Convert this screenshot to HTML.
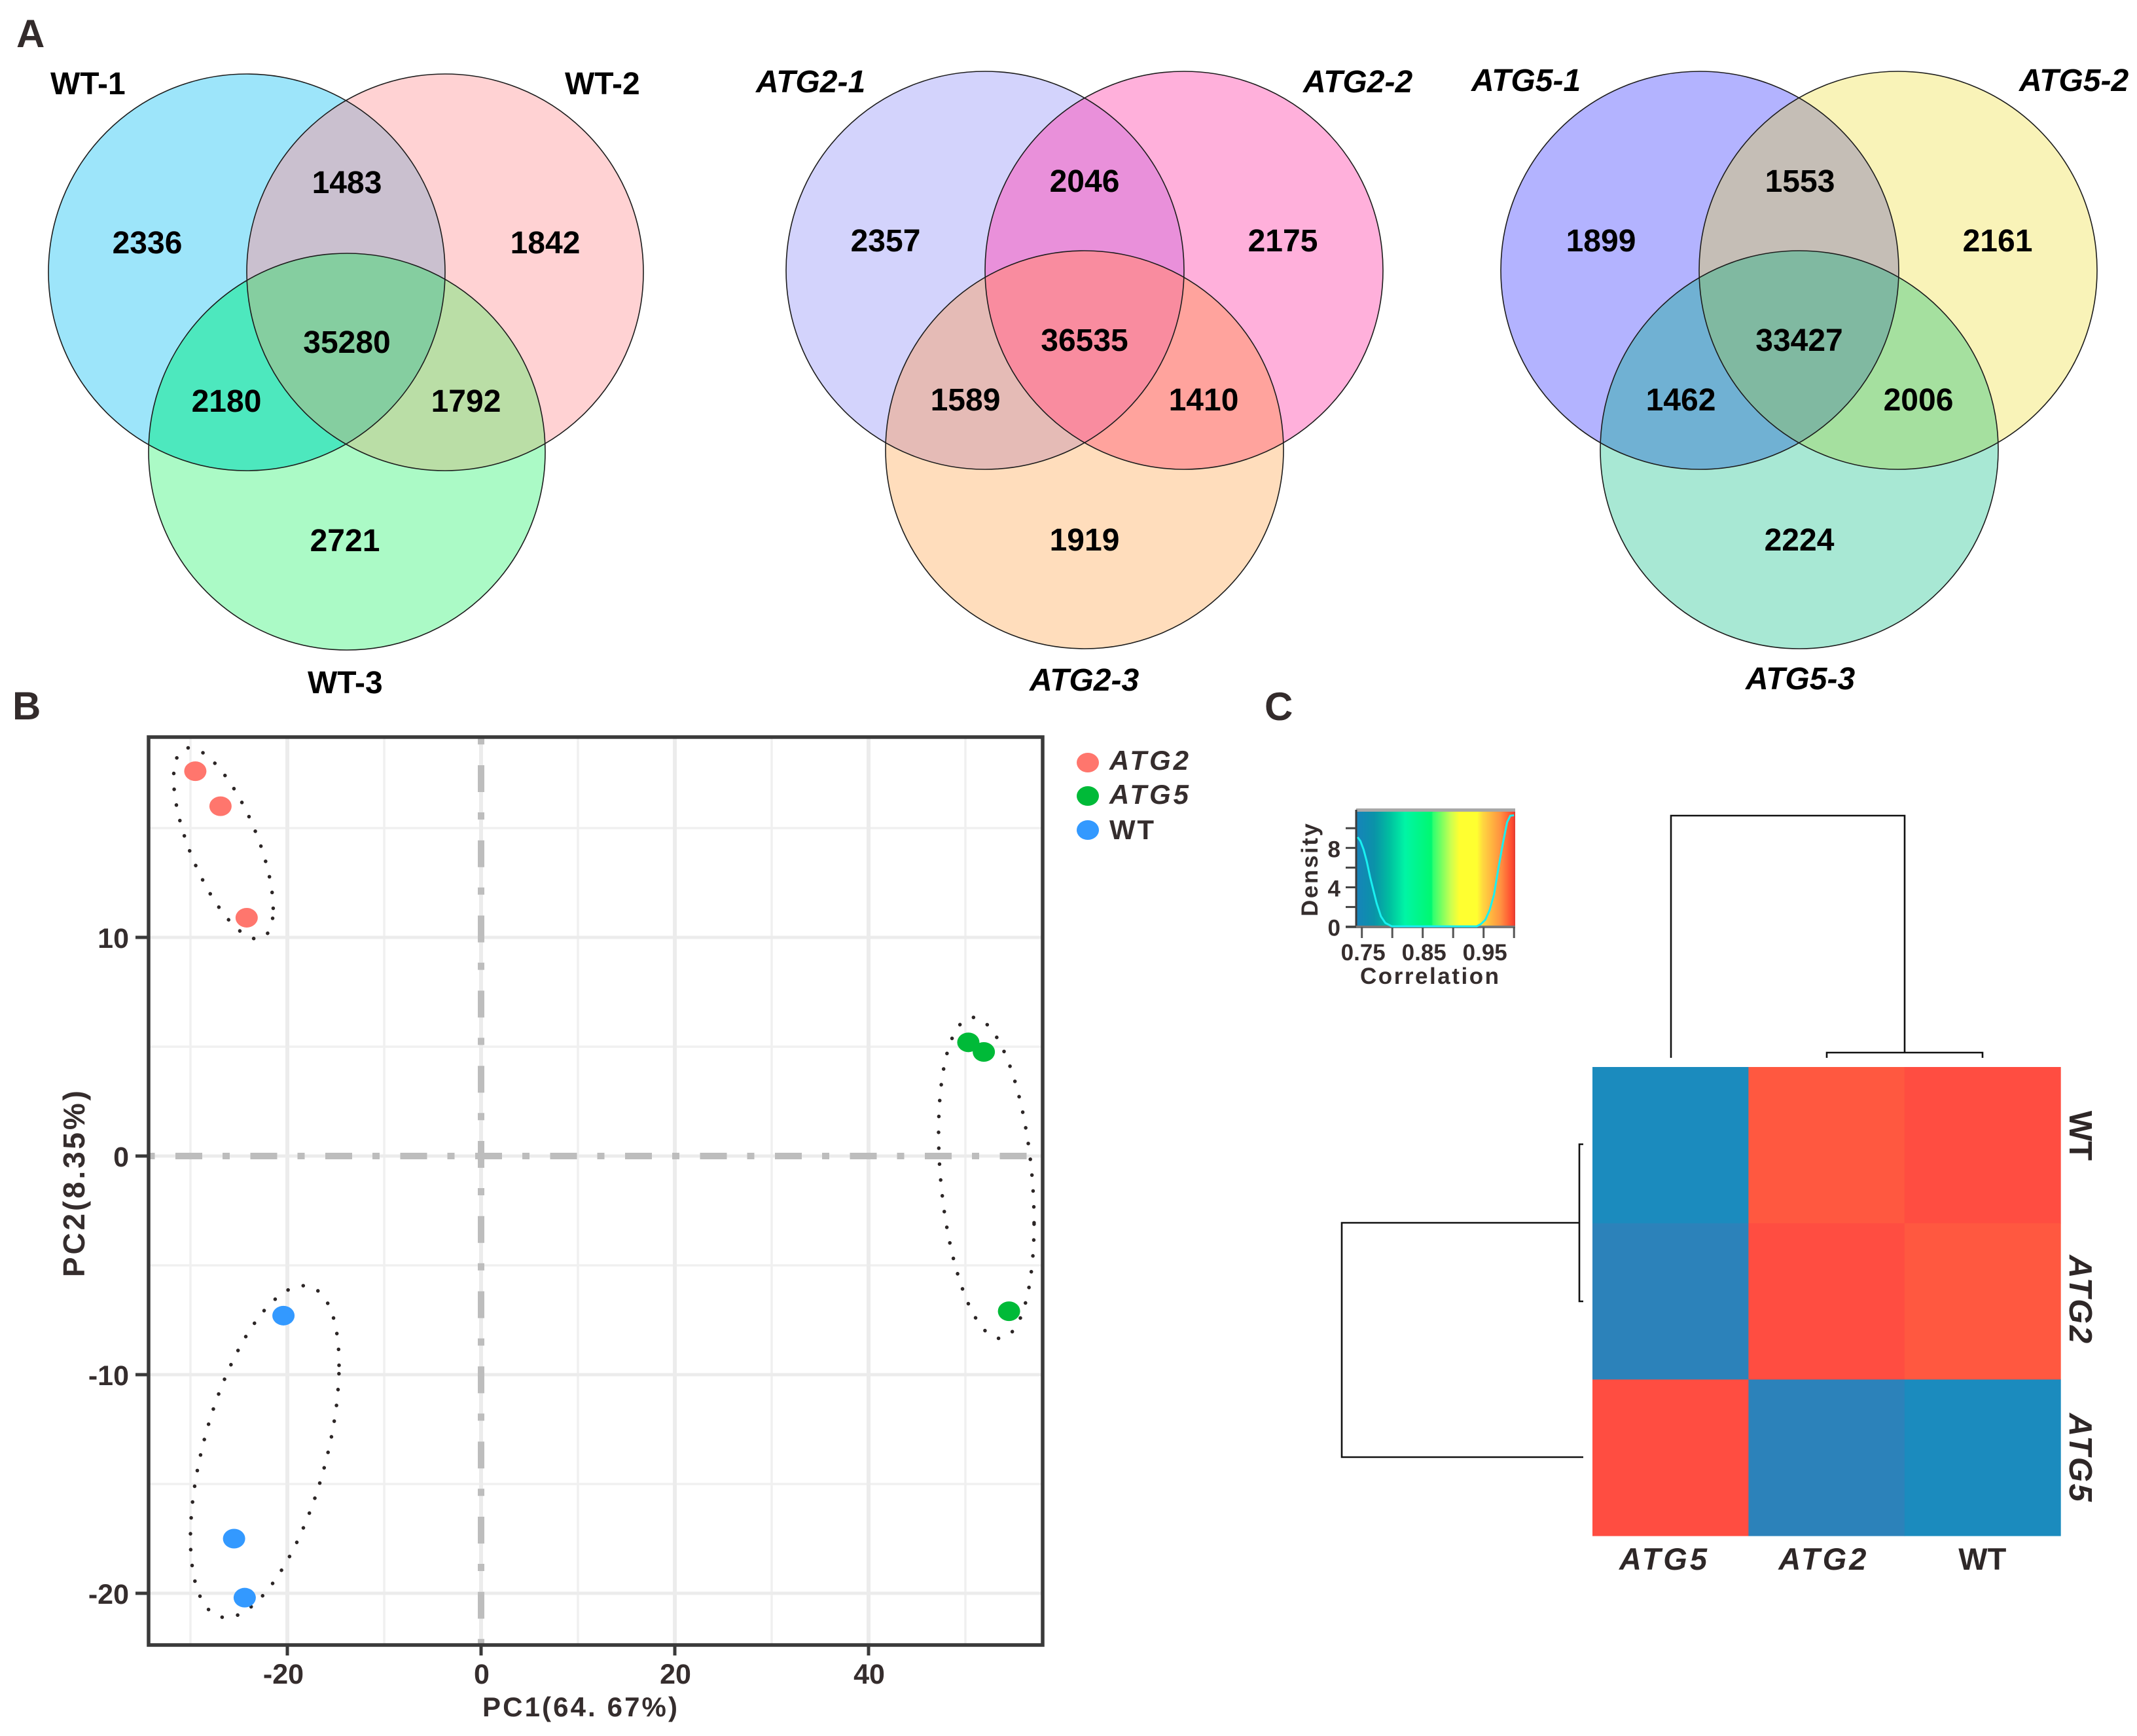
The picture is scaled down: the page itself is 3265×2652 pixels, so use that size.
<!DOCTYPE html>
<html lang="en">
<head>
<meta charset="utf-8">
<title>Venn diagrams, PCA and correlation heatmap</title>
<style>
html,body{margin:0;padding:0;background:#fff;}
svg{display:block;font-family:"Liberation Sans",Arial,sans-serif;}
.panel{font-size:60px;font-weight:bold;fill:#332b2b;}
.num{font-size:48px;font-weight:bold;fill:#000;text-anchor:middle;}
.vl{font-size:48px;font-weight:bold;fill:#000;}
.vi{font-size:48px;font-weight:bold;font-style:italic;fill:#000;}
.ol{fill:none;stroke:#1c1c1c;stroke-width:1.6;}
.tick{font-size:43px;font-weight:bold;fill:#352d2d;}
.dl{font-size:35px;font-weight:bold;fill:#352d2d;}
</style>
</head>
<body>
<svg id="figure" xmlns="http://www.w3.org/2000/svg" width="3265" height="2652" viewBox="0 0 3265 2652">
<defs>
<clipPath id="w-a"><circle cx="377" cy="416" r="303"/></clipPath>
<clipPath id="w-b"><circle cx="680" cy="416" r="303"/></clipPath>
<clipPath id="g2-a"><circle cx="1505" cy="413" r="304"/></clipPath>
<clipPath id="g2-b"><circle cx="1809" cy="413" r="304"/></clipPath>
<clipPath id="g5-a"><circle cx="2597" cy="413" r="304"/></clipPath>
<clipPath id="g5-b"><circle cx="2900" cy="413" r="304"/></clipPath>
<linearGradient id="density-gradient" x1="0" x2="1" y1="0" y2="0">
<stop offset="0" stop-color="#2a80b8"/>
<stop offset="0.014" stop-color="#1585b8"/>
<stop offset="0.116" stop-color="#0a93a8"/>
<stop offset="0.212" stop-color="#00c0a0"/>
<stop offset="0.308" stop-color="#00f5a5"/>
<stop offset="0.473" stop-color="#00f870"/>
<stop offset="0.484" stop-color="#30ff70"/>
<stop offset="0.596" stop-color="#ccff50"/>
<stop offset="0.65" stop-color="#ffff30"/>
<stop offset="0.76" stop-color="#ffff30"/>
<stop offset="0.795" stop-color="#ffd840"/>
<stop offset="0.91" stop-color="#ff9040"/>
<stop offset="0.98" stop-color="#ff4a30"/>
<stop offset="1" stop-color="#e03c30"/>
</linearGradient>
</defs>

<text class="panel" x="25" y="72">A</text>
<text class="panel" x="19" y="1099">B</text>
<text class="panel" x="1932" y="1100">C</text>

<!-- Venn WT -->
<g>
<circle cx="377" cy="416" r="303" fill="#9de5fa"/>
<circle cx="680" cy="416" r="303" fill="#ffd2d3"/>
<circle cx="530" cy="690" r="303" fill="#abfac6"/>
<g clip-path="url(#w-a)"><circle cx="680" cy="416" r="303" fill="#cac0cf"/></g>
<g clip-path="url(#w-a)"><circle cx="530" cy="690" r="303" fill="#4de8be"/></g>
<g clip-path="url(#w-b)"><circle cx="530" cy="690" r="303" fill="#badea6"/></g>
<g clip-path="url(#w-a)"><g clip-path="url(#w-b)"><circle cx="530" cy="690" r="303" fill="#85cea0"/></g></g>
<circle class="ol" cx="377" cy="416" r="303"/><circle class="ol" cx="680" cy="416" r="303"/><circle class="ol" cx="530" cy="690" r="303"/>
<text class="num" x="225" y="387">2336</text>
<text class="num" x="530" y="295">1483</text>
<text class="num" x="833" y="387">1842</text>
<text class="num" x="530" y="539">35280</text>
<text class="num" x="346" y="629">2180</text>
<text class="num" x="712" y="629">1792</text>
<text class="num" x="527" y="842">2721</text>
<text class="vl" x="77" y="144">WT-1</text>
<text class="vl" x="863" y="144">WT-2</text>
<text class="vl" x="470" y="1059">WT-3</text>
</g>

<!-- Venn ATG2 -->
<g>
<circle cx="1505" cy="413" r="304" fill="#d3d3fc"/>
<circle cx="1809" cy="413" r="304" fill="#ffb0db"/>
<circle cx="1657" cy="687" r="304" fill="#ffddbc"/>
<g clip-path="url(#g2-a)"><circle cx="1809" cy="413" r="304" fill="#e990da"/></g>
<g clip-path="url(#g2-a)"><circle cx="1657" cy="687" r="304" fill="#e5bbb6"/></g>
<g clip-path="url(#g2-b)"><circle cx="1657" cy="687" r="304" fill="#ffa39d"/></g>
<g clip-path="url(#g2-a)"><g clip-path="url(#g2-b)"><circle cx="1657" cy="687" r="304" fill="#f98c9f"/></g></g>
<circle class="ol" cx="1505" cy="413" r="304"/><circle class="ol" cx="1809" cy="413" r="304"/><circle class="ol" cx="1657" cy="687" r="304"/>
<text class="num" x="1353" y="384">2357</text>
<text class="num" x="1657" y="293">2046</text>
<text class="num" x="1960" y="384">2175</text>
<text class="num" x="1657" y="536">36535</text>
<text class="num" x="1475" y="627">1589</text>
<text class="num" x="1839" y="627">1410</text>
<text class="num" x="1657" y="841">1919</text>
<text class="vi" x="1155" y="141">ATG2-1</text>
<text class="vi" x="1991" y="141">ATG2-2</text>
<text class="vi" x="1573" y="1055">ATG2-3</text>
</g>

<!-- Venn ATG5 -->
<g>
<circle cx="2597" cy="413" r="304" fill="#b3b3ff"/>
<circle cx="2900" cy="413" r="304" fill="#f9f3b8"/>
<circle cx="2749" cy="687" r="304" fill="#a8e8d4"/>
<g clip-path="url(#g5-a)"><circle cx="2900" cy="413" r="304" fill="#c5beb6"/></g>
<g clip-path="url(#g5-a)"><circle cx="2749" cy="687" r="304" fill="#70b1d3"/></g>
<g clip-path="url(#g5-b)"><circle cx="2749" cy="687" r="304" fill="#a5e09f"/></g>
<g clip-path="url(#g5-a)"><g clip-path="url(#g5-b)"><circle cx="2749" cy="687" r="304" fill="#80b9a1"/></g></g>
<circle class="ol" cx="2597" cy="413" r="304"/><circle class="ol" cx="2900" cy="413" r="304"/><circle class="ol" cx="2749" cy="687" r="304"/>
<text class="num" x="2446" y="384">1899</text>
<text class="num" x="2750" y="293">1553</text>
<text class="num" x="3052" y="384">2161</text>
<text class="num" x="2749" y="536">33427</text>
<text class="num" x="2568" y="627">1462</text>
<text class="num" x="2931" y="627">2006</text>
<text class="num" x="2749" y="841">2224</text>
<text class="vi" x="2248" y="139">ATG5-1</text>
<text class="vi" x="3085" y="139">ATG5-2</text>
<text class="vi" x="2667" y="1053">ATG5-3</text>
</g>

<!-- PCA -->
<g id="pca-grid"></g>
<line x1="227" x2="1593" y1="1766" y2="1766" stroke="#bdbdbd" stroke-width="10" stroke-dasharray="41 31 11 31.5" stroke-dashoffset="73.5"/>
<line x1="735" x2="735" y1="1126" y2="2513" stroke="#bdbdbd" stroke-width="10" stroke-dasharray="41 31 11 31.8" stroke-dashoffset="71.8"/>
<g id="pca-ellipses"></g>
<g id="pca-points"></g>
<rect x="227" y="1126" width="1366" height="1387" fill="none" stroke="#3a3a3a" stroke-width="5.5"/>
<g id="pca-axes"></g>
<text x="737" y="2622" font-size="42" font-weight="bold" fill="#352d2d" textLength="298">PC1(64. 67%)</text>
<text transform="translate(129 1951) rotate(-90)" font-size="46" font-weight="bold" fill="#352d2d" textLength="285">PC2(8.35%)</text>

<g>
<ellipse cx="1662" cy="1165" rx="17" ry="15" fill="#ff766d"/>
<ellipse cx="1662" cy="1216" rx="17" ry="15" fill="#00ba38"/>
<ellipse cx="1662" cy="1268" rx="17" ry="15" fill="#3399ff"/>
<text x="1695" y="1176" font-size="42" font-weight="bold" font-style="italic" fill="#352d2d" textLength="121">ATG2</text>
<text x="1695" y="1228" font-size="42" font-weight="bold" font-style="italic" fill="#352d2d" textLength="121">ATG5</text>
<text x="1695" y="1282" font-size="42" font-weight="bold" fill="#352d2d" textLength="68">WT</text>
</g>

<!-- Density key -->
<rect x="2072" y="1237" width="243" height="179" fill="url(#density-gradient)"/>
<rect x="2072" y="1235" width="243" height="5" fill="#a8a8a8"/>
<line x1="2072" x2="2072" y1="1237" y2="1416" stroke="#3a3a3a" stroke-width="3"/>
<line x1="2056" x2="2315" y1="1416" y2="1416" stroke="#777" stroke-width="4"/>
<g id="density-axes"></g>
<path id="density-curve" fill="none" stroke="#19f0f0" stroke-width="3"/>
<text class="dl" x="2078" y="1503" textLength="212">Correlation</text>
<text class="dl" transform="translate(2013 1400) rotate(-90)" textLength="142">Density</text>

<!-- Heatmap -->
<g id="heatmap"></g>
<g fill="none" stroke="#111" stroke-width="2.6">
<path d="M2553 1616V1246H2910V1608"/>
<path d="M2791 1616V1608H3029V1616"/>
<path d="M2413 1868H2050V2226H2419"/>
<path d="M2419 1748H2413V1988H2419"/>
</g>
<g id="heatmap-labels"></g>
</svg>

<script>
/* ---------- PCA data ---------- */
const atg2PC1 = [-29.5, -26.9, -24.2];
const atg2PC2 = [17.6, 16.0, 10.9];
const atg5PC1 = [50.3, 51.9, 54.5];
const atg5PC2 = [5.2, 4.76, -7.1];
const wtPC1 = [-20.4, -25.5, -24.4];
const wtPC2 = [-7.3, -17.5, -20.2];
const groupNames = ['atg2', 'atg5', 'wt'];
const ellipseCenterPC1 = [-26.6, 52.16, -22.33];
const ellipseCenterPC2 = [14.3, -1.0, -13.52];
const ellipseRadiusPC1 = [5.14, 4.93, 7.67];
const ellipseRadiusPC2 = [4.37, 7.34, 7.59];
const ellipseCorrelation = [-0.68, -0.28, 0.52];
const xMajorTicks = [-20, 0, 20, 40];
const xMinorTicks = [-30, -10, 10, 30, 50];
const yMajorTicks = [-20, -10, 0, 10];
const yMinorTicks = [-15, -5, 5, 15];

/* ---------- Density data ---------- */
const densityCorrelation = [0.7429, 0.7475, 0.7529, 0.7582, 0.7636, 0.7689, 0.7743, 0.7814, 0.7886, 0.7993, 0.9386, 0.9457, 0.9529, 0.96, 0.9671, 0.9743, 0.9814, 0.9886, 0.9939, 1.0];
const densityValues = [9.09, 8.71, 7.82, 6.6, 5.04, 3.71, 2.38, 1.04, 0.38, 0.04, 0.04, 0.27, 0.71, 1.71, 3.27, 5.93, 8.38, 10.6, 11.27, 11.31];
const densityXTicks = [0.75, 0.80, 0.85, 0.90, 0.95, 1.00];
const densityXLabels = ['0.75', '0.85', '0.95'];
const densityYTicks = [0, 2, 4, 6, 8, 10];
const densityYLabels = [0, 4, 8];

/* ---------- Heatmap data ---------- */
const heatColumns = ['ATG5', 'ATG2', 'WT'];
const heatRows = ['WT', 'ATG2', 'ATG5'];
const heatValuesWT = [0.742, 0.985, 1.0];
const heatValuesATG2 = [0.75, 1.0, 0.985];
const heatValuesATG5 = [1.0, 0.75, 0.742];

const SVGNS = 'http://www.w3.org/2000/svg';
function mk(tag, attrs, parent) {
  const e = document.createElementNS(SVGNS, tag);
  for (const k in attrs) e.setAttribute(k, attrs[k]);
  parent.appendChild(e);
  return e;
}
const pcaX = v => 735 + 14.8 * v;
const pcaY = v => 1766 - 33.4 * v;
const densX = v => 2080.7 + (v - 0.75) * 930;
const densY = v => 1415.7 - 15.05 * v;

/* grid */
const gridG = document.getElementById('pca-grid');
function gridLine(x1, y1, x2, y2, w, c, name) {
  const l = mk('line', {x1, y1, x2, y2, stroke: c, 'stroke-width': w}, gridG);
  
  
}
xMinorTicks.forEach(v => gridLine(pcaX(v), 1126, pcaX(v), 2513, 3.5, '#f0f0f0', 'x-minor-gridline'));
yMinorTicks.forEach(v => gridLine(227, pcaY(v), 1593, pcaY(v), 3.5, '#f0f0f0', 'y-minor-gridline'));
xMajorTicks.forEach(v => gridLine(pcaX(v), 1126, pcaX(v), 2513, 6, '#ececec', 'x-major-gridline'));
yMajorTicks.forEach(v => gridLine(227, pcaY(v), 1593, pcaY(v), 5, '#ececec', 'y-major-gridline'));

/* ellipses */
const ellipseG = document.getElementById('pca-ellipses');
groupNames.forEach((g, i) => {
  const phi = Math.acos(ellipseCorrelation[i]);
  let d = '';
  for (let k = 0; k <= 240; k++) {
    const t = k / 240 * 2 * Math.PI;
    const px = pcaX(ellipseCenterPC1[i] + ellipseRadiusPC1[i] * Math.cos(t));
    const py = pcaY(ellipseCenterPC2[i] + ellipseRadiusPC2[i] * Math.cos(t - phi));
    d += (k ? 'L' : 'M') + px.toFixed(1) + ' ' + py.toFixed(1);
  }
  const p = mk('path', {d, fill: 'none', stroke: '#2c2626', 'stroke-width': 5.5, 'stroke-linecap': 'round', 'stroke-dasharray': '0.1 24.2'}, ellipseG);
  
  
});

/* points */
const pointG = document.getElementById('pca-points');
function drawPoints(xs, ys, color, name) {
  xs.forEach((x, i) => {
    const c = mk('ellipse', {cx: pcaX(x), cy: pcaY(ys[i]), rx: 17, ry: 15, fill: color}, pointG);
    
    
  });
}
drawPoints(atg2PC1, atg2PC2, '#ff766d', 'point-atg2');
drawPoints(wtPC1, wtPC2, '#3399ff', 'point-wt');
drawPoints(atg5PC1, atg5PC2, '#00ba38', 'point-atg5');

/* PCA axes */
const axesG = document.getElementById('pca-axes');
xMajorTicks.forEach(v => {
  const t = mk('line', {x1: pcaX(v), x2: pcaX(v), y1: 2513, y2: 2529, stroke: '#3a3a3a', 'stroke-width': 5}, axesG);
  
  
  const l = mk('text', {x: pcaX(v) + (v < 0 ? -6 : 1), y: 2572, 'text-anchor': 'middle', class: 'tick'}, axesG);
  l.textContent = v;
  
  
});
yMajorTicks.forEach(v => {
  const t = mk('line', {x1: 207, x2: 227, y1: pcaY(v), y2: pcaY(v), stroke: '#3a3a3a', 'stroke-width': 5}, axesG);
  
  
  const l = mk('text', {x: 197, y: pcaY(v) + 16, 'text-anchor': 'end', class: 'tick'}, axesG);
  l.textContent = v;
  
  
});

/* density curve */
document.getElementById('density-curve').setAttribute('d',
  densityCorrelation.map((c, i) => (i ? 'L' : 'M') + densX(c).toFixed(1) + ' ' + densY(densityValues[i]).toFixed(1)).join(''));
const densG = document.getElementById('density-axes');
densityXTicks.forEach(v => {
  const t = mk('line', {x1: densX(v), x2: densX(v), y1: 1416, y2: 1433, stroke: '#555', 'stroke-width': 3}, densG);
  
  
});
densityXLabels.forEach(v => {
  const l = mk('text', {x: densX(parseFloat(v)) + 2, y: 1467, 'text-anchor': 'middle', class: 'dl'}, densG);
  l.textContent = v;
  
  
});
densityYTicks.forEach(v => {
  const t = mk('line', {x1: 2056, x2: 2072, y1: densY(v), y2: densY(v), stroke: '#444', 'stroke-width': 3}, densG);
  
  
});
densityYLabels.forEach(v => {
  const l = mk('text', {x: 2048, y: densY(v) + 14, 'text-anchor': 'end', class: 'dl'}, densG);
  l.textContent = v;
  
  
});

/* heatmap */
const heatStops = [[0.742, [27, 139, 190]], [0.75, [44, 130, 186]], [0.985, [255, 88, 64]], [1.0, [255, 77, 65]]];
function heatColor(v) {
  for (let i = 1; i < heatStops.length; i++) {
    if (v <= heatStops[i][0]) {
      const a = heatStops[i - 1], b = heatStops[i];
      const f = Math.max(0, (v - a[0]) / (b[0] - a[0]));
      return 'rgb(' + a[1].map((c, k) => Math.round(c + (b[1][k] - c) * f)).join(',') + ')';
    }
  }
  return 'rgb(255,77,65)';
}
const heatX = i => 2433 + i * 238.4;
const heatY = i => 1630 + i * 238.7;
const heatG = document.getElementById('heatmap');
[heatValuesWT, heatValuesATG2, heatValuesATG5].forEach((row, r) => {
  row.forEach((v, c) => {
    const cell = mk('rect', {x: heatX(c), y: heatY(r), width: 238.9, height: 239.2, fill: heatColor(v)}, heatG);
    
    
  });
});
const heatLabelG = document.getElementById('heatmap-labels');
heatColumns.forEach((name, i) => {
  const atts = {x: heatX(i) + 119 - (i === 2 ? 0 : i === 1 ? 6 : 11), y: 2398, 'text-anchor': 'middle', 'font-size': 47, 'font-weight': 'bold', fill: '#2e2727'};
  if (name !== 'WT') { atts['font-style'] = 'italic'; atts.textLength = 134; }
  const l = mk('text', atts, heatLabelG);
  l.textContent = name;
  
  
});
heatRows.forEach((name, i) => {
  const cy = heatY(i) + 119 + (i === 0 ? -14 : i === 1 ? -3 : 0);
  const atts = {transform: 'translate(3162 ' + cy + ') rotate(90)', 'text-anchor': 'middle', 'font-size': 49, 'font-weight': 'bold', fill: '#2e2727'};
  if (name !== 'WT') { atts['font-style'] = 'italic'; atts.textLength = 135; }
  const l = mk('text', atts, heatLabelG);
  l.textContent = name;
  
  
});
</script>
</body>
</html>
